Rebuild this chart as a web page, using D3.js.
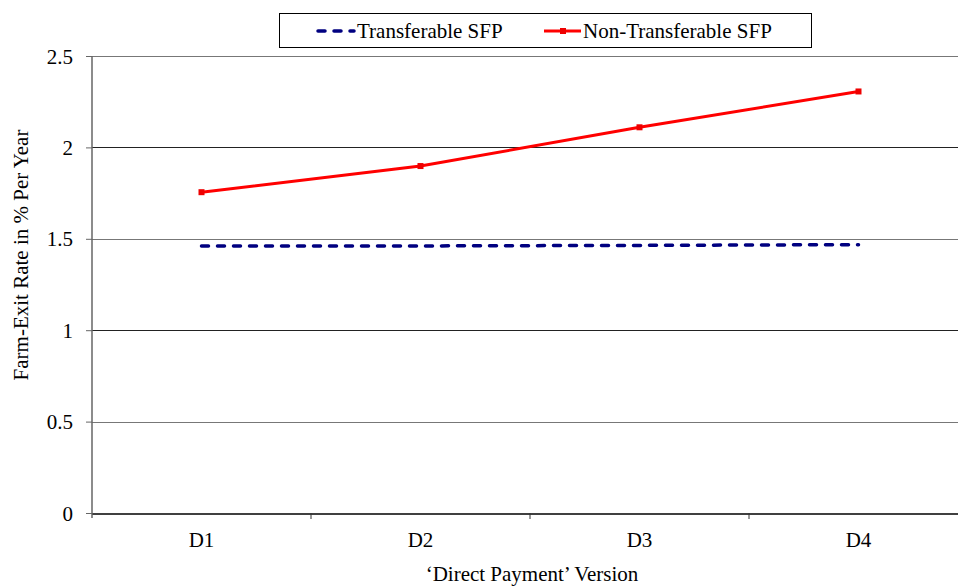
<!DOCTYPE html>
<html>
<head>
<meta charset="utf-8">
<script src="https://cdn.jsdelivr.net/npm/d3@7"></script>
<style>
  body { margin: 0; background: #fff; }
  svg { display: block; }
  text { font-family: "Liberation Serif", "Times New Roman", serif; font-size: 21px; fill: #000; }
</style>
</head>
<body>
<svg width="958" height="587"></svg>
<script>
const categories = ['D1', 'D2', 'D3', 'D4']
const transferable = [1.46, 1.461, 1.464, 1.468]
const nonTransferable = [1.755, 1.898, 2.11, 2.306]
const yTicks = [0, 0.5, 1, 1.5, 2, 2.5]

const svg = d3.select('svg')

const margin = { top: 56, left: 92 }
const innerWidth = 876
const innerHeight = 457

const xScale = d3.scaleBand()
  .domain(categories)
  .range([0, innerWidth])

const yScale = d3.scaleLinear()
  .domain([0, 2.5])
  .range([innerHeight, 0])

const g = svg.append('g')
  .attr('transform', `translate(${margin.left},${margin.top})`)

// gridlines
g.selectAll('.grid')
  .data(yTicks.filter(d => d > 0))
  .enter().append('line')
    .attr('x1', 0)
    .attr('x2', innerWidth)
    .attr('y1', d => Math.round(yScale(d)) + 0.5)
    .attr('y2', d => Math.round(yScale(d)) + 0.5)
    .attr('stroke', d => d % 1 === 0 ? '#222' : '#777')
    .attr('stroke-width', 1)

// y axis
const yAxis = d3.axisLeft(yScale)
  .tickValues(yTicks)
  .tickFormat(d => d)
  .tickSize(6)
  .tickSizeOuter(0)

const yG = g.append('g').call(yAxis)
  .attr('font-family', null).attr('font-size', null)
yG.select('.domain').attr('stroke', '#666').attr('stroke-width', 1.5)
  .attr('d', `M0,0V${innerHeight + 5}`)
yG.selectAll('.tick line').attr('stroke', '#666')
yG.selectAll('.tick text')
  .attr('x', -19)
  .attr('dy', '0.34em')

// x axis
const xAxis = d3.axisBottom(xScale)
  .tickSize(0)
  .tickSizeOuter(0)

const xG = g.append('g')
  .attr('transform', `translate(0,${Math.round(innerHeight) + 0.5})`)
  .call(xAxis)
  .attr('font-family', null).attr('font-size', null)
xG.select('.domain').attr('stroke', '#000').attr('stroke-width', 1.5)
xG.selectAll('.tick text')
  .attr('y', 33)
  .attr('dy', 0)

// category boundary ticks
g.selectAll('.xtick')
  .data(categories.slice(1))
  .enter().append('line')
    .attr('x1', d => xScale(d))
    .attr('x2', d => xScale(d))
    .attr('y1', innerHeight)
    .attr('y2', innerHeight + 6)
    .attr('stroke', '#333')

const xPos = (d, i) => xScale(categories[i]) + xScale.bandwidth() / 2

const line = d3.line()
  .x(xPos)
  .y(d => yScale(d))

// transferable line
g.append('path')
  .datum(transferable)
  .attr('d', line)
  .attr('fill', 'none')
  .attr('stroke', '#000080')
  .attr('stroke-width', 3.5)
  .attr('stroke-linecap', 'round')
  .attr('stroke-dasharray', '7,9')

// non transferable line
g.append('path')
  .datum(nonTransferable)
  .attr('d', line)
  .attr('fill', 'none')
  .attr('stroke', '#ff0000')
  .attr('stroke-width', 3)

g.selectAll('.marker')
  .data(nonTransferable)
  .enter().append('rect')
    .attr('x', (d, i) => xPos(d, i) - 3)
    .attr('y', d => yScale(d) - 3)
    .attr('width', 6)
    .attr('height', 6)
    .attr('fill', '#ee0000')

// axis labels
svg.append('text')
  .text('Farm-Exit Rate in % Per Year')
  .attr('text-anchor', 'middle')
  .attr('transform', 'translate(28,255) rotate(-90)')

svg.append('text')
  .text('\u2018Direct Payment\u2019 Version')
  .attr('text-anchor', 'middle')
  .attr('x', 532)
  .attr('y', 581)

// legend
const legend = svg.append('g')
legend.append('rect')
  .attr('x', 279.5)
  .attr('y', 13.5)
  .attr('width', 532)
  .attr('height', 34)
  .attr('fill', '#fff')
  .attr('stroke', '#000')

legend.append('line')
  .attr('x1', 318).attr('x2', 354)
  .attr('y1', 31).attr('y2', 31)
  .attr('stroke', '#000080')
  .attr('stroke-width', 3.5)
  .attr('stroke-linecap', 'round')
  .attr('stroke-dasharray', '7,9')
legend.append('text')
  .text('Transferable SFP')
  .attr('x', 357).attr('y', 38)

legend.append('line')
  .attr('x1', 544).attr('x2', 581)
  .attr('y1', 31).attr('y2', 31)
  .attr('stroke', '#ff0000')
  .attr('stroke-width', 3)
legend.append('rect')
  .attr('x', 560).attr('y', 28).attr('width', 6).attr('height', 6)
  .attr('fill', '#ee0000')
legend.append('text')
  .text('Non-Transferable SFP')
  .attr('x', 583).attr('y', 38)
</script>
</body>
</html>
